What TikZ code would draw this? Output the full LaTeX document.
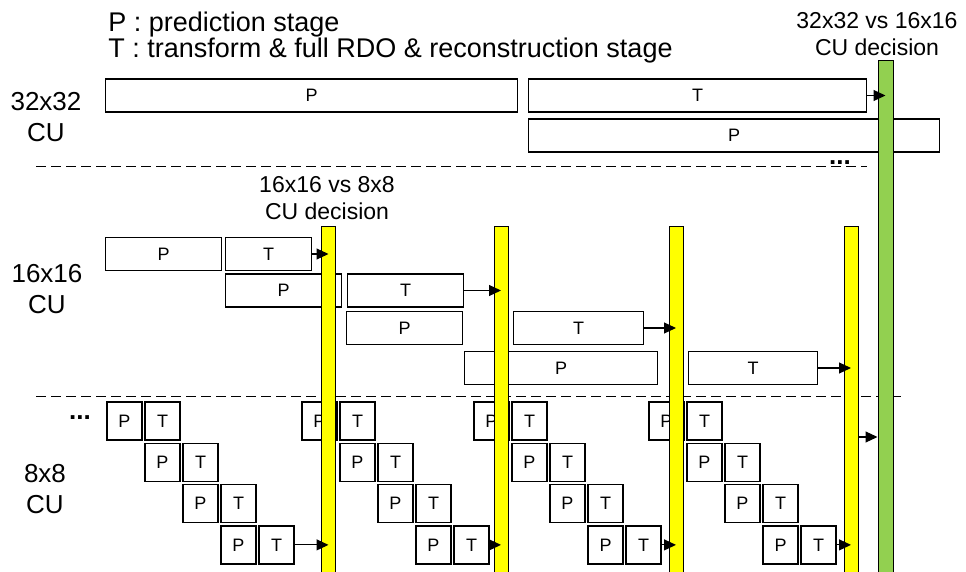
\documentclass[tikz,border=0pt]{standalone}
\usepackage{fontspec}
\setmainfont{Liberation Sans}
\usetikzlibrary{arrows.meta}
\definecolor{decyellow}{HTML}{FFFF00}
\definecolor{decgreen}{HTML}{92D050}

\begin{document}
\begin{tikzpicture}[x=0.5pt,y=-0.5pt,
  stagebox/.style={draw,line width=0.65pt,inner sep=0pt,minimum height=16.5pt,anchor=west,font=\fontsize{9}{10}\selectfont},
  cubox/.style={draw,line width=0.65pt,inner sep=0pt,minimum width=17.5pt,minimum height=19pt,font=\fontsize{9}{10}\selectfont},
  decbar/.style={draw,line width=0.5pt,fill=decyellow,inner sep=0pt,minimum width=7pt,minimum height=179pt},
  arr/.style={line width=0.6pt,-{Triangle[length=6pt,width=5.5pt]}},
  sizelbl/.style={align=center,font=\fontsize{13}{15.5}\selectfont},
  declbl/.style={align=center,font=\fontsize{11.5}{13.5}\selectfont},
  sep/.style={line width=0.5pt,dash pattern=on 5pt off 2.5pt}]
  \useasboundingbox (0,0) rectangle (966,572);
  % legend
  \node[anchor=base west,inner sep=0pt,font=\fontsize{13.5}{15}\selectfont] (legp) at (108,32) {P : prediction stage};
  \node[anchor=base west,inner sep=0pt,font=\fontsize{13.5}{15}\selectfont] (legt) at (108,58) {T : transform \& full RDO \& reconstruction stage};
  % 32x32 CU
  \node[stagebox,minimum width=206pt] (p32a) at (105,95.5) {P};
  \node[stagebox,minimum width=169pt] (t32a) at (528,95.5) {T};
  \node[stagebox,minimum width=205.5pt] (p32b) at (528,135.5) {P};
  % 16x16 CU
  \node[stagebox,minimum width=58pt] (p16a) at (105,254) {P};
  \node[stagebox,minimum width=43pt] (t16a) at (225,254) {T};
  \node[stagebox,minimum width=58pt] (p16b) at (225,290.5) {P};
  \node[stagebox,minimum width=58pt] (t16b) at (347,290.5) {T};
  \node[stagebox,minimum width=58pt] (p16c) at (346,328) {P};
  \node[stagebox,minimum width=65pt] (t16c) at (513,328) {T};
  \node[stagebox,minimum width=96.5pt] (p16d) at (464,368) {P};
  \node[stagebox,minimum width=64.5pt] (t16d) at (688,368) {T};
  % 8x8 CU, four groups of four
  \foreach \g/\gx in {1/107,2/302,3/474,4/649}{
    \foreach \r in {0,...,3}{
      \node[cubox] (cp\g\r) at ({\gx+17.5+38*\r},{421+41.3*\r}) {P};
      \node[cubox] (ct\g\r) at ({\gx+55.5+38*\r},{421+41.3*\r}) {T};
    }
  }
  % separators
  \draw[sep] (36,167) -- (867,167);
  \draw[sep] (36,397) -- (903,397);
  % decision bars
  \foreach \d/\bx in {1/328.5,2/501,3/676,4/851}
    \node[decbar] (d\d) at (\bx,406) {};
  \node[decbar,fill=decgreen,minimum width=7.5pt,minimum height=262pt] (dg) at (885.5,323) {};
  % arrows into the decisions
  \draw[arr] (t32a.east) -- (t32a.east -| dg.center);
  \draw[arr] (t16a.east) -- (t16a.east -| d1.center);
  \draw[arr] (t16b.east) -- (t16b.east -| d2.center);
  \draw[arr] (t16c.east) -- (t16c.east -| d3.center);
  \draw[arr] (t16d.east) -- (t16d.east -| d4.center);
  \foreach \g in {1,...,4}
    \draw[arr] (ct\g3.east) -- (ct\g3.east -| d\g.center);
  \coordinate (hop) at (0,437);
  \draw[arr] (d4.east |- hop) -- (dg.west |- hop);
  % labels
  \node[sizelbl] (cu32) at (46,117.5) {32x32\\CU};
  \node[sizelbl] (cu16) at (47,289) {16x16\\CU};
  \node[sizelbl] (cu8) at (45,489) {8x8\\CU};
  \node[declbl] (dec32) at (877,34.5) {32x32 vs 16x16\\CU decision};
  \node[declbl] (dec16) at (327,198.5) {16x16 vs 8x8\\CU decision};
  \node[anchor=base,inner sep=0pt,font=\fontsize{13}{15}\selectfont\bfseries] (more32) at (840,165) {...};
  \node[anchor=base,inner sep=0pt,font=\fontsize{13}{15}\selectfont\bfseries] (more8) at (80,420) {...};
\end{tikzpicture}
\end{document}
